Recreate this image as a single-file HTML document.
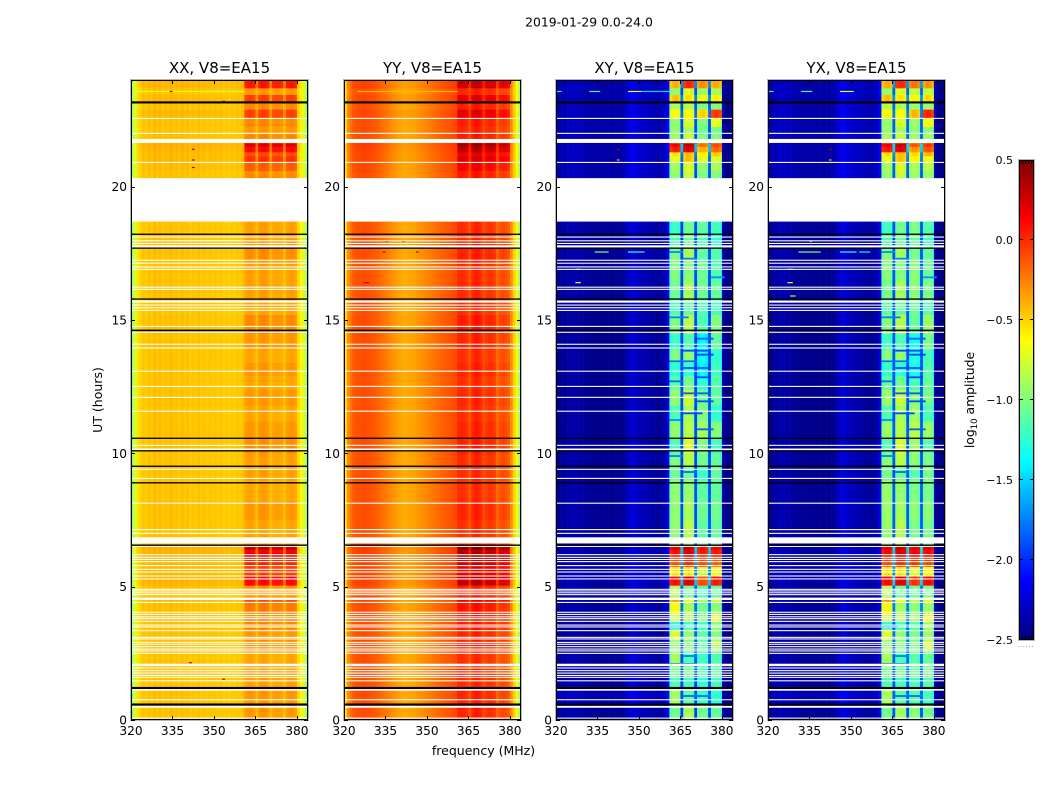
<!DOCTYPE html>
<html>
<head>
<meta charset="utf-8">
<title>2019-01-29 0.0-24.0</title>
<style>
html,body{margin:0;padding:0;background:#fff;width:1050px;height:800px;overflow:hidden}
svg{display:block}
text{font-family:"DejaVu Sans","Liberation Sans",sans-serif;fill:#000}
</style>
</head>
<body>
<svg id="fig" xmlns="http://www.w3.org/2000/svg" width="1050" height="800" viewBox="0 0 1050 800">
<rect width="1050" height="800" fill="#fff"/>
<text x="589" y="26.5" font-size="12.4" text-anchor="middle">2019-01-29 0.0-24.0</text>
<text x="483.5" y="755" font-size="12.5" text-anchor="middle">frequency (MHz)</text>
<text x="102" y="400" font-size="12.5" text-anchor="middle" transform="rotate(-90 102 400)">UT (hours)</text>
<text x="974" y="400" font-size="12.4" text-anchor="middle" transform="rotate(-90 974 400)">log<tspan dy="3" font-size="8.5">10</tspan><tspan dy="-3"> amplitude</tspan></text>
</svg>
<script>
// Value scale (log10 amplitude)
const colorMin = -2.5;
const colorMax = 0.5;
const colorTicks = [-2.5, -2.0, -1.5, -1.0, -0.5, 0.0, 0.5];
const colorTickLabels = ["\u22122.5", "\u22122.0", "\u22121.5", "\u22121.0", "\u22120.5", "0.0", "0.5"];

// Axes
const freqTicks = [320, 335, 350, 365, 380];
const hourTicks = [0, 5, 10, 15, 20];
const panelTitles = ["XX, V8=EA15", "YY, V8=EA15", "XY, V8=EA15", "YX, V8=EA15"];

// Sub-band (0-3) of each of the 64 channels; -1 is outside the bright band
const channelSubband = [
 -1,-1,-1,-1,-1,-1,-1,-1,-1,-1,
 -1,-1,-1,-1,-1,-1,-1,-1,-1,-1,
 -1,-1,-1,-1,-1,-1,-1,-1,-1,-1,
 -1,-1,-1,-1,-1,-1,-1,-1,-1,-1,
 -1, 0, 0, 0, 0,-1, 1, 1, 1, 1,
 -1, 2, 2, 2, 2,-1, 3, 3, 3, 3,
 -1,-1,-1,-1];

// Mean log10 amplitude per channel, one array per polarisation
const profileXX = [
 -0.90,-0.75,-0.55,-0.50,-0.45,-0.48,-0.44,-0.47,-0.42,-0.46,
 -0.43,-0.47,-0.44,-0.46,-0.42,-0.46,-0.44,-0.47,-0.43,-0.46,
 -0.44,-0.48,-0.45,-0.47,-0.44,-0.47,-0.45,-0.48,-0.45,-0.47,
 -0.46,-0.48,-0.46,-0.48,-0.47,-0.49,-0.47,-0.48,-0.46,-0.47,
 -0.44,-0.38,-0.35,-0.35,-0.38,-0.44,-0.36,-0.34,-0.34,-0.37,
 -0.44,-0.40,-0.38,-0.38,-0.40,-0.45,-0.37,-0.35,-0.35,-0.38,
 -0.50,-0.60,-0.75,-0.90];
const profileYY = [
 -0.55,-0.30,-0.22,-0.14,-0.12,-0.11,-0.10,-0.10,-0.11,-0.12,
 -0.13,-0.15,-0.17,-0.20,-0.22,-0.24,-0.27,-0.30,-0.32,-0.35,
 -0.36,-0.38,-0.38,-0.37,-0.36,-0.35,-0.33,-0.31,-0.30,-0.28,
 -0.26,-0.24,-0.22,-0.20,-0.18,-0.16,-0.15,-0.13,-0.12,-0.10,
 -0.08,-0.01, 0.00,-0.02,-0.05,-0.12,-0.02, 0.03, 0.03,-0.02,
 -0.10,-0.06,-0.03,-0.03,-0.08,-0.18,-0.12,-0.10,-0.12,-0.16,
 -0.30,-0.48,-0.68,-0.88];
const profileXY = [
 -2.46,-2.44,-2.42,-2.44,-2.38,-2.41,-2.36,-2.39,-2.42,-2.40,
 -2.44,-2.45,-2.45,-2.46,-2.45,-2.46,-2.47,-2.46,-2.47,-2.46,
 -2.47,-2.46,-2.47,-2.46,-2.43,-2.38,-2.30,-2.26,-2.28,-2.32,
 -2.34,-2.37,-2.35,-2.38,-2.40,-2.42,-2.44,-2.43,-2.40,-2.36,
 -2.20,-1.12,-1.05,-1.02,-1.10,-1.95,-0.98,-0.92,-0.92,-1.00,
 -1.95,-1.15,-1.08,-1.08,-1.15,-1.95,-1.12,-1.07,-1.07,-1.15,
 -2.35,-2.46,-2.47,-2.47];
const profileYX = [
 -2.46,-2.44,-2.42,-2.40,-2.36,-2.38,-2.40,-2.38,-2.42,-2.44,
 -2.45,-2.44,-2.46,-2.46,-2.45,-2.46,-2.47,-2.47,-2.46,-2.47,
 -2.46,-2.47,-2.46,-2.45,-2.42,-2.33,-2.26,-2.24,-2.30,-2.32,
 -2.36,-2.36,-2.37,-2.38,-2.42,-2.42,-2.44,-2.43,-2.41,-2.38,
 -2.20,-1.10,-1.03,-1.00,-1.08,-1.90,-0.98,-0.93,-0.93,-1.00,
 -1.90,-1.08,-1.00,-1.00,-1.08,-1.90,-1.07,-1.00,-1.00,-1.10,
 -2.35,-2.46,-2.47,-2.47];

// Time bands: start hour and how far each band departs from the mean profile
const bandStartHours = [0,0.55,1.25,1.6,2.0,2.6,3.0,3.4,3.7,4.0,4.4,4.6,5.05,5.4,5.75,6.1,6.4,6.55,7.5,8.2,9.0,9.5,10.0,10.6,11.2,11.8,12.4,12.9,13.4,13.9,14.5,15.2,15.8,16.5,17.2,17.7,18.2,20.32,20.6,20.92,21.15,21.3,21.5,21.64,22.0,22.25,22.56,22.9,23.2,23.45,23.7,24];
const parallelBoost  = [.05,.05,.02,.02,0,.08,.05,.1,.1,.15,.3,.05,.55,.35,.45,.6,.8,0,.05,0,.02,.02,.08,.05,0,.05,0,.05,0,.05,.1,0,.02,.02,.08,.02,.02,.1,.25,.4,.3,.55,.7,.1,.05,.1,.35,.1,.35,.05,.5];
const crossLowBoost  = [.03,.1,.03,.07,.03,0,0,0,0,.03,.03,.03,.06,.06,.06,.06,.06,.03,.02,.02,.02,.02,.02,0,0,0,0,0,0,0,0,0,.02,.02,.03,.03,.03,.08,.08,.08,.08,.08,.08,.08,.08,.08,.08,.08,.08,.08,.08];
const crossBoostA    = [0,.15,-.1,0,.15,.1,.3,-.2,.3,.4,.7,.2,1.15,.5,.95,1.15,1.25,.1,.1,.1,0,.05,-.1,.1,-.1,.1,-.05,-.2,.05,-.15,.05,-.1,0,.05,.05,-.1,-.15,.1,.15,.35,.5,1.1,1.2,.15,.1,.1,.4,.2,.6,.1,.65];
const crossBoostB    = [.05,-.15,-.25,-.1,-.2,-.05,0,-.25,.1,.05,.3,-.1,1.15,.4,.95,1.15,1.25,.1,.05,0,-.1,.1,.2,.1,.05,.15,-.1,-.3,0,-.2,.1,-.15,.05,-.05,.05,-.1,-.1,.15,.2,.5,.5,1.15,1.25,.15,.05,.2,.3,.1,.4,.2,.95];
const crossBoostC    = [.05,-.1,-.15,-.05,-.1,0,0,-.1,.1,.05,.2,-.05,1.0,.3,1.0,1.15,1.2,0,.05,0,-.1,.05,.1,.2,.1,.05,-.15,-.3,-.25,-.3,-.05,-.05,.05,.05,0,-.05,0,.1,.15,.4,.5,.7,.9,.1,.05,.1,.6,.1,.4,.2,.8];
const crossBoostD    = [0,-.15,-.1,0,-.05,.25,.1,.1,.4,.1,.35,0,1.15,.4,.95,1.15,1.25,0,.05,0,0,0,-.1,.1,-.15,0,-.05,-.1,-.15,0,.1,-.1,0,-.05,-.05,-.15,-.1,.1,.2,.35,.6,.9,1.0,.1,.05,.4,1.05,.1,.5,.2,.7];

// Dark streaks inside the bright sub-bands of the cross-hands: hour, channels, value
const streakHour  = [9.3,9.9,10.9,11.25,11.5,11.95,12.25,12.7,12.85,13.2,13.45,13.7,13.85,14.3,15.1,16.6,17.3,17.55,3.5,2.4,2.1,0.9];
const streakChan0 = [46,41,51,41,46,51,46,41,51,46,41,51,46,51,41,56,46,41,41,46,41,46];
const streakChan1 = [50,45,56,44,52,56,54,45,55,55,50,56,54,56,47,60,50,45,46,50,50,55];
const streakValue = [-1.8,-1.75,-1.85,-1.7,-1.9,-1.9,-1.85,-1.8,-1.95,-1.9,-1.8,-1.95,-1.9,-1.85,-1.75,-1.7,-1.75,-1.7,-1.7,-1.75,-1.8,-1.8];

// Times with no data, drawn white: start hour and duration
const flaggedStart = [0.05,0.46,0.74,1.1,1.45,1.58,1.65,1.74,1.83,1.93,2.02,2.48,2.57,2.64,2.73,2.82,2.89,3.02,3.08,3.33,3.47,3.54,3.68,3.78,3.85,3.94,4.02,4.39,4.5,4.68,4.75,4.82,4.88,5.27,5.38,5.53,5.63,5.77,5.92,6.0,6.08,6.18,6.49,6.62,6.98,7.12,8.11,9.04,9.38,10.1,10.28,11.56,12.08,12.49,13.06,13.93,14.07,14.52,14.74,15.34,15.44,15.54,15.65,16.13,16.21,16.88,16.97,17.11,17.22,17.72,17.85,17.95,18.09,18.69,20.89,21.64,21.98,22.54];
const flaggedSpan  = [0.04,0.07,0.04,0.08,0.04,0.04,0.04,0.04,0.04,0.04,0.09,0.04,0.04,0.04,0.04,0.04,0.04,0.04,0.04,0.04,0.04,0.04,0.04,0.04,0.04,0.04,0.04,0.04,0.09,0.04,0.04,0.04,0.04,0.04,0.04,0.04,0.04,0.04,0.04,0.04,0.04,0.04,0.04,0.23,0.04,0.04,0.04,0.04,0.04,0.08,0.04,0.04,0.04,0.04,0.04,0.04,0.04,0.04,0.04,0.04,0.04,0.04,0.08,0.04,0.04,0.04,0.04,0.04,0.04,0.08,0.04,0.04,0.04,1.63,0.04,0.15,0.04,0.04];

// Black scans: start hour and duration
const blackStart = [0.54,1.16,6.53,8.87,9.49,10.07,10.54,14.58,15.76,17.67,18.19,23.12];
const blackSpan  = [0.08,0.08,0.05,0.05,0.05,0.05,0.05,0.06,0.05,0.05,0.05,0.08];

// Isolated interference: panel index, hour, first channel, last channel, value
const rfiPanel   = [0,0,0,0,0,0,0,0,0,1,1,1,1,1,1,2,2,2,2,2,2,2,2,2,2,3,3,3,3,3,3,3,3,3,3,3,3];
const rfiHour    = [23.57,23.57,23.57,23.2,21.4,21.0,20.72,2.15,1.53,23.57,17.95,17.95,17.55,17.55,16.4,23.57,23.57,23.57,23.57,21.4,21.0,17.55,17.55,16.9,16.4,23.57,23.57,23.57,21.4,21.0,17.95,17.55,17.55,17.55,16.9,16.4,15.9];
const rfiChan0   = [0,14,26,33,22,22,22,21,33,5,15,21,14,26,7,0,12,26,31,22,22,14,26,7,7,0,12,26,22,22,15,11,26,33,7,7,8];
const rfiChan1   = [30,14,40,33,22,22,22,21,33,40,15,21,14,26,8,1,15,30,40,22,22,18,31,8,8,1,15,30,22,22,15,18,31,36,8,8,9];
const rfiValue   = [-0.7,0.3,-0.75,0.3,0.35,0.35,0.35,0.35,0.35,-0.4,0.3,0.2,0.3,0.3,0.3,-1.3,-1.2,-0.7,-1.5,0.3,-0.4,-1.0,-1.2,-0.9,-0.7,-1.3,-1.2,-0.7,0.3,-0.4,-0.4,-1.0,-1.2,-1.4,-0.9,-0.7,-0.9];

// ------------------------------------------------------------------
const svgNS = "http://www.w3.org/2000/svg";
const fig = document.getElementById("fig");
const profiles = [profileXX, profileYY, profileXY, profileYX];
const panelNames = ["xx", "yy", "xy", "yx"];
const panelLeft = [131, 344, 556, 768];
const panelWidth = 177;
const plotTop = 80;
const plotBottom = 720;
const channelCount = 64;

function make(tag, attrs, parent) {
  const node = document.createElementNS(svgNS, tag);
  for (const k in attrs) node.setAttribute(k, attrs[k]);
  parent.appendChild(node);
  return node;
}
function jet(v) {
  const t = Math.max(0, Math.min(1, (v - colorMin) / (colorMax - colorMin)));
  const r = Math.max(0, Math.min(1, 1.5 - Math.abs(4 * t - 3)));
  const g = Math.max(0, Math.min(1, 1.5 - Math.abs(4 * t - 2)));
  const b = Math.max(0, Math.min(1, 1.5 - Math.abs(4 * t - 1)));
  return "rgb(" + Math.round(r * 255) + "," + Math.round(g * 255) + "," + Math.round(b * 255) + ")";
}
function yOfHour(h) { return plotBottom - h * (plotBottom - plotTop) / 24; }
function xOfFreq(left, f) { return left + (f - 320) * panelWidth / channelCount; }
function xOfChan(left, c) { return left + c * panelWidth / channelCount; }
function yOfColor(v) { return 640 - (v - colorMin) * 480 / (colorMax - colorMin); }

function cellValue(p, band, ch) {
  const base = profiles[p][ch];
  const sb = channelSubband[ch];
  if (p < 2) {
    const scale = p === 1 ? 0.6 : 0.85;
    if (sb >= 0) return base + scale * parallelBoost[band];
    if (ch > 40 && ch < 60) return base + scale * parallelBoost[band] * 0.5;
    return base + parallelBoost[band] * 0.08;
  }
  const boosts = [crossBoostA, crossBoostB, crossBoostC, crossBoostD];
  if (sb >= 0) return base + boosts[sb][band];
  if (ch > 40 && ch < 60) return base + Math.max(0, boosts[0][band]) * 0.35;
  if (ch >= 60) return base;
  return base + crossLowBoost[band];
}

panelNames.forEach(function (name, p) {
  const left = panelLeft[p];
  const g = make("g", {}, fig);
  
  
  const cw = panelWidth / channelCount;

  for (let b = 0; b < bandStartHours.length - 1; b++) {
    const y0 = yOfHour(bandStartHours[b + 1]);
    const y1 = yOfHour(bandStartHours[b]);
    for (let c = 0; c < channelCount; c++) {
      const cell = make("rect", {
        x: xOfChan(left, c).toFixed(2), y: y0.toFixed(2),
        width: (cw + 0.3).toFixed(2), height: (y1 - y0 + 0.3).toFixed(2),
        fill: jet(cellValue(p, b, c))
      }, g);
      
      
    }
  }
  if (p >= 2) {
    streakHour.forEach(function (h, i) {
      const st = make("rect", {
        x: xOfChan(left, streakChan0[i]).toFixed(2), y: (yOfHour(h) - 0.9).toFixed(2),
        width: ((streakChan1[i] - streakChan0[i] + 1) * cw).toFixed(2), height: 1.8,
        fill: jet(streakValue[i])
      }, g);
      
      
    });
  }
  rfiHour.forEach(function (h, i) {
    if (rfiPanel[i] !== p) return;
    const seg = make("rect", {
      x: xOfChan(left, rfiChan0[i]).toFixed(2), y: (yOfHour(h) - 0.6).toFixed(2),
      width: ((rfiChan1[i] - rfiChan0[i] + 1) * cw).toFixed(2), height: 1.2,
      fill: jet(rfiValue[i])
    }, g);
    
    
  });
  flaggedStart.forEach(function (h, i) {
    const y0 = yOfHour(h + flaggedSpan[i]);
    const gap = make("rect", {
      x: left, y: y0.toFixed(2), width: panelWidth,
      height: (yOfHour(h) - y0).toFixed(2), fill: "#fff"
    }, g);
    
    
  });
  blackStart.forEach(function (h, i) {
    const y0 = yOfHour(h + blackSpan[i]);
    const line = make("rect", {
      x: left, y: y0.toFixed(2), width: panelWidth,
      height: (yOfHour(h) - y0).toFixed(2), fill: "#000"
    }, g);
    
    
  });

  const halo = make("rect", {
    x: left - 0.5, y: plotTop - 0.5, width: panelWidth + 1, height: plotBottom - plotTop + 1,
    fill: "none", stroke: "#b4b4b4", "stroke-width": 1
  }, g);
  
  
  const frame = make("rect", {
    x: left + 0.5, y: plotTop + 0.5, width: panelWidth - 1, height: plotBottom - plotTop - 1,
    fill: "none", stroke: "#000", "stroke-width": 1
  }, g);
  
  

  const title = make("text", {
    x: left + panelWidth / 2, y: 73, "font-size": 15, "text-anchor": "middle"
  }, g);
  title.textContent = panelTitles[p];
  
  

  freqTicks.forEach(function (f) {
    const x = Math.round(xOfFreq(left, f)) + 0.5;
    [[plotBottom, plotBottom - 4], [plotTop, plotTop + 4]].forEach(function (e) {
      const t = make("line", { x1: x, x2: x, y1: e[0], y2: e[1], stroke: "#000", "stroke-width": 1 }, g);
      
      
    });
    const lab = make("text", { x: xOfFreq(left, f), y: 735, "font-size": 12.2, "text-anchor": "middle" }, g);
    lab.textContent = String(f);
    
    
  });
  hourTicks.forEach(function (h) {
    const y = Math.round(yOfHour(h)) + 0.5;
    [[left, left + 4], [left + panelWidth, left + panelWidth - 4]].forEach(function (e) {
      const t = make("line", { x1: e[0], x2: e[1], y1: y, y2: y, stroke: "#000", "stroke-width": 1 }, g);
      
      
    });
    const lab = make("text", { x: left - 4, y: yOfHour(h) + 4.5, "font-size": 12.2, "text-anchor": "end" }, g);
    lab.textContent = String(h);
    
    
  });
});

// Colorbar
const cb = make("g", {}, fig);


const cbLeft = 1019;
const cbWidth = 15;
for (let i = 0; i < 240; i++) {
  const v = colorMin + (i + 0.5) * (colorMax - colorMin) / 240;
  const s = make("rect", { x: cbLeft, y: 640 - (i + 1) * 2, width: cbWidth, height: 2.3, fill: jet(v) }, cb);
  
  
}
const cbHalo = make("rect", {
  x: cbLeft - 0.5, y: 159.5, width: cbWidth + 1, height: 481, fill: "none", stroke: "#b4b4b4", "stroke-width": 1
}, cb);


const cbFrame = make("rect", {
  x: cbLeft + 0.5, y: 160.5, width: cbWidth - 1, height: 479, fill: "none", stroke: "#000", "stroke-width": 1
}, cb);


colorTicks.forEach(function (v, i) {
  const y = Math.round(yOfColor(v)) + (v === colorMax ? 0.5 : -0.5);
  [[cbLeft, cbLeft + 4], [cbLeft + cbWidth, cbLeft + cbWidth - 4]].forEach(function (e) {
    const t = make("line", { x1: e[0], x2: e[1], y1: y, y2: y, stroke: "#000", "stroke-width": 1 }, cb);
    
    
  });
  const lab = make("text", { x: 1013, y: yOfColor(v) + 4, "font-size": 11, "text-anchor": "end" }, cb);
  lab.textContent = colorTickLabels[i];
  
  
});
[3, 6, 9, 12].forEach(function (dx) {
  [[160, 164], [640, 636]].forEach(function (e) {
    const t = make("line", { x1: cbLeft + dx + 0.5, x2: cbLeft + dx + 0.5, y1: e[0], y2: e[1], stroke: "#000", "stroke-width": 1 }, cb);
    
    
  });
});
const dots = make("text", { x: 1026, y: 647, "font-size": 5, "text-anchor": "middle", "letter-spacing": "1.3" }, cb);
dots.textContent = "......";


</script>
</body>
</html>
